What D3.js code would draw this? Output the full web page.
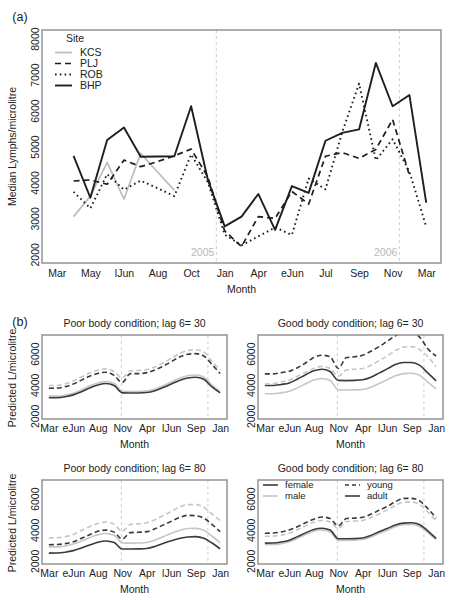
<!DOCTYPE html>
<html><head><meta charset="utf-8">
<script src="https://cdn.jsdelivr.net/npm/d3@7/dist/d3.min.js"></script>
<style>
body{margin:0;background:#fff}
text{font-family:"Liberation Sans",Arial,Helvetica,sans-serif;fill:#222}
</style>
</head><body>
<svg id="c" width="452" height="600"></svg>
<script>
// ---------- Panel (a) data ----------
const topTickPos = [0,2,4,6,8,10,12,14,16,18,20,22];
const topTickLabels = ["Mar","May","lJun","Aug","Oct","Jan","Apr","eJun","Jul","Sep","Nov","Mar"];
const topYTicks = [2000,3000,4000,5000,6000,7000,8000];
const siteNames = ["KCS","PLJ","ROB","BHP"];
const KCS = [3050,3620,4560,3540,4810,4290,3780];
const PLJ = [4040,4070,3950,4620,4440,4580,4740,4930,4150,2650,2220,3050,3000,3750,3400,4730,4830,4670,4920,5750,4200];
const ROB = [3740,3280,4230,3800,4050,3840,3620,4780,4000,2550,2250,2500,2750,2540,4110,3810,5400,6750,4620,5200,4300,2770];
const BHP = [4740,3575,5180,5530,4715,4720,4730,6120,4070,2780,3050,3680,2680,3900,3710,5160,5380,5475,7325,6120,6430,3440];
const yearBreaksTop = [9.5, 20.4];
const yearLabels = ["2005","2006"];

// ---------- Panel (b) data ----------
const botTickPos = [1,4,7,10,13,16,19,22];
const botTickLabels = ["Mar","eJun","Aug","Nov","Apr","lJun","Sep","Jan"];
const botYTicks = [2000,4000,6000];
const yearBreaksBot = [9.9, 20.5];
const panelTitles = ["Poor body condition; lag 6= 30","Good body condition; lag 6= 30",
                     "Poor body condition; lag 6= 80","Good body condition; lag 6= 80"];
const p1FemaleAdult = [3170,3170,3230,3350,3550,3800,3980,4080,3950,3480,3470,3470,3500,3620,3820,4050,4280,4430,4480,4350,3860,3480];
const p1MaleAdult   = [3270,3270,3330,3460,3670,3920,4110,4210,4080,3580,3570,3570,3600,3730,3940,4180,4420,4580,4630,4500,3980,3580];
const p1FemaleYoung = [3780,3790,3880,4050,4300,4550,4730,4810,4600,4150,4720,4720,4780,4950,5200,5480,5780,5960,6000,5850,5300,4720];
const p1MaleYoung   = [3950,3960,4050,4250,4500,4750,4930,5020,4850,4450,4900,4920,4980,5150,5400,5700,6000,6200,6250,6100,5500,4950];
const p2FemaleAdult = [3950,3950,4020,4120,4370,4650,4900,5000,4850,4280,4270,4280,4320,4480,4750,5020,5300,5430,5430,5250,4750,4250];
const p2MaleAdult   = [3420,3420,3480,3580,3800,4060,4300,4400,4270,3680,3660,3670,3700,3840,4080,4330,4580,4720,4740,4600,4150,3730];
const p2FemaleYoung = [4700,4700,4780,4870,5100,5400,5750,5900,5800,5050,5750,5800,5900,6150,6450,6800,7150,7350,7350,7050,6300,5850];
const p2MaleYoung   = [4050,4080,4180,4300,4550,4800,5050,5180,5050,4550,4950,5000,5050,5250,5550,5850,6200,6420,6450,6250,5800,5150];
const p3FemaleAdult = [2500,2510,2560,2660,2830,3020,3200,3280,3180,2760,2760,2770,2800,2930,3120,3290,3440,3540,3560,3460,3150,2780];
const p3MaleAdult   = [2900,2900,2960,3080,3280,3490,3680,3760,3650,3150,3140,3150,3180,3330,3550,3770,3960,4080,4090,3970,3600,3150];
const p3FemaleYoung = [3040,3050,3110,3230,3450,3680,3900,3980,3850,3400,3820,3840,3880,4060,4300,4540,4780,4930,4900,4750,4350,3880];
const p3MaleYoung   = [3480,3490,3560,3700,3950,4200,4400,4500,4350,3900,4350,4380,4450,4650,4900,5180,5450,5620,5620,5450,5000,4600];
const p4FemaleAdult = [3140,3150,3210,3330,3560,3800,4020,4100,3990,3420,3420,3430,3470,3640,3880,4080,4300,4430,4450,4320,3920,3450];
const p4MaleAdult   = [3040,3050,3110,3230,3450,3690,3910,3990,3880,3320,3320,3330,3370,3540,3770,3970,4190,4320,4340,4210,3820,3350];
const p4FemaleYoung = [3780,3790,3860,3990,4200,4450,4680,4820,4720,4250,4720,4750,4800,5000,5250,5500,5800,6020,6020,5850,5350,4750];
const p4MaleYoung   = [3580,3590,3650,3780,4000,4250,4480,4600,4500,4100,4530,4560,4600,4790,5020,5280,5560,5780,5780,5620,5130,4560];

// ---------- drawing ----------
const svg = d3.select("#c");
const FRAME = "#8c8c8c";
const DARK = "#1e1e1e";
const LIGHT = "#bdbdbd";
const GRID = "#c8c8c8";

function frame(b){
  svg.append("rect").attr("x",b.x0).attr("y",b.y0).attr("width",b.x1-b.x0).attr("height",b.y1-b.y0)
    .attr("fill","none").attr("stroke",FRAME).attr("stroke-width",1.4);
}
function xAxis(b, x, pos, labels, dy){
  const g = svg.append("g").attr("transform",`translate(0,${b.y1})`)
    .call(d3.axisBottom(x).tickValues(pos).tickFormat((d,i)=>labels[i]).tickSize(0).tickPadding(0));
  g.select(".domain").remove();
  g.selectAll("text").attr("y",dy).attr("dy","0.35em").style("font-size","10.5px")
    .style("font-family",'"Liberation Sans",Arial,sans-serif').attr("fill","#222");
}
function yAxis(b, y, ticks){
  const g = svg.append("g").attr("transform",`translate(${b.x0},0)`)
    .call(d3.axisLeft(y).tickValues(ticks).tickFormat(d3.format("d")).tickSize(0));
  g.select(".domain").remove();
  g.selectAll("text").attr("x",null).attr("dy","0.35em").attr("text-anchor","middle")
    .attr("transform","translate(-7,0) rotate(-90)").style("font-size","10.5px")
    .style("font-family",'"Liberation Sans",Arial,sans-serif').attr("fill","#222");
}
function label(x,y,t,size,rot,anchor,fill){
  const e = svg.append("text").attr("text-anchor",anchor||"middle").attr("dy","0.35em")
    .style("font-size",size+"px").text(t);
  if(fill) e.style("fill",fill);
  e.attr("transform",`translate(${x},${y})`+(rot?` rotate(${rot})`:""));
  return e;
}

// Panel (a)
const A = {x0:42,x1:441,y0:30,y1:263};
const xa = d3.scaleLinear().domain([-0.88,22.88]).range([A.x0,A.x1]);
const ya = d3.scaleLinear().domain([1760,8240]).range([A.y1,A.y0]);
yearBreaksTop.forEach((v,i)=>{
  svg.append("line").attr("x1",xa(v)).attr("x2",xa(v)).attr("y1",A.y0).attr("y2",A.y1)
    .attr("stroke",GRID).attr("stroke-width",0.9).attr("stroke-dasharray","3,3");
  label(xa(v)-2, 252, yearLabels[i], 10.5, 0, "end", "#b8b8b8");
});
const siteStyles = {
  KCS:{c:LIGHT,w:1.7,d:null},
  PLJ:{c:DARK,w:1.7,d:"6,4"},
  ROB:{c:DARK,w:1.9,d:"1.6,3.2"},
  BHP:{c:DARK,w:1.9,d:null}
};
const siteData = {KCS, PLJ, ROB, BHP};
const lineA = d3.line().x(d=>xa(d[0])).y(d=>ya(d[1]));
siteNames.forEach(s=>{
  const pts = siteData[s].map((v,i)=>[i+1,v]);
  const st = siteStyles[s];
  svg.append("path").attr("d",lineA(pts)).attr("fill","none").attr("stroke",st.c)
    .attr("stroke-width",st.w).attr("stroke-dasharray",st.d).attr("stroke-linejoin","round");
});
frame(A);
xAxis(A, xa, topTickPos, topTickLabels, 10);
yAxis(A, ya, topYTicks);
label(241.5, 289, "Month", 10.5);
label(12, 146.5, "Median Lymphs/microlitre", 10.5, -90);
label(20, 17, "(a)", 12.5);
// legend (a)
label(75, 38, "Site", 10.5);
siteNames.forEach((s,i)=>{
  const yy = 52.5 + i*11;
  const st = siteStyles[s];
  svg.append("line").attr("x1",55).attr("x2",72).attr("y1",yy).attr("y2",yy)
    .attr("stroke",st.c).attr("stroke-width",st.w).attr("stroke-dasharray",st.d);
  label(80, yy, s, 10.5, 0, "start");
});

// Panel (b)
const panelSeries = [
  [p1FemaleAdult,p1MaleAdult,p1FemaleYoung,p1MaleYoung],
  [p2FemaleAdult,p2MaleAdult,p2FemaleYoung,p2MaleYoung],
  [p3FemaleAdult,p3MaleAdult,p3FemaleYoung,p3MaleYoung],
  [p4FemaleAdult,p4MaleAdult,p4FemaleYoung,p4MaleYoung]
];
const seriesStyles = [
  {c:"#3a3a3a",d:null},   // female adult
  {c:"#c6c6c6",d:null},   // male adult
  {c:"#3a3a3a",d:"5,3"},  // female young
  {c:"#c6c6c6",d:"5,3"}   // male young
];
const boxes = [
  {x0:42,x1:227,y0:335,y1:419},
  {x0:258,x1:443,y0:335,y1:419},
  {x0:42,x1:227,y0:480,y1:564},
  {x0:258,x1:443,y0:480,y1:564}
];
boxes.forEach((b,p)=>{
  const x = d3.scaleLinear().domain([1-0.84,22+0.84]).range([b.x0,b.x1]);
  const y = d3.scaleLinear().domain([1800,7200]).range([b.y1,b.y0]);
  const cid = "clip"+p;
  svg.append("clipPath").attr("id",cid).append("rect")
    .attr("x",b.x0).attr("y",b.y0).attr("width",b.x1-b.x0).attr("height",b.y1-b.y0);
  yearBreaksBot.forEach(v=>{
    svg.append("line").attr("x1",x(v)).attr("x2",x(v)).attr("y1",b.y0).attr("y2",b.y1)
      .attr("stroke",GRID).attr("stroke-width",0.9).attr("stroke-dasharray","3,3");
  });
  const line = d3.line().x((d,i)=>x(i+1)).y(d=>y(d)).curve(d3.curveMonotoneX);
  const g = svg.append("g").attr("clip-path",`url(#${cid})`);
  [1,0,3,2].forEach(k=>{
    const st = seriesStyles[k];
    g.append("path").attr("d",line(panelSeries[p][k])).attr("fill","none")
      .attr("stroke",st.c).attr("stroke-width",1.6).attr("stroke-dasharray",st.d);
  });
  frame(b);
  xAxis(b, x, botTickPos, botTickLabels, 9);
  yAxis(b, y, botYTicks);
  label((b.x0+b.x1)/2, b.y0-12, panelTitles[p], 10.5);
  label((b.x0+b.x1)/2, b.y1+25, "Month", 10.5);
  if(b.x0 < 100) label(12, (b.y0+b.y1)/2+1, "Predicted L/microlitre", 10.5, -90);
});
label(20, 322, "(b)", 12.5);

// legend (b)
const legendItems = [
  {t:"female", c:"#3a3a3a", d:null, x:263, y:485},
  {t:"male",   c:"#c6c6c6", d:null, x:263, y:496},
  {t:"young",  c:"#3a3a3a", d:"4,3", x:345, y:485},
  {t:"adult",  c:"#3a3a3a", d:null, x:345, y:496}
];
legendItems.forEach(l=>{
  svg.append("line").attr("x1",l.x).attr("x2",l.x+15).attr("y1",l.y).attr("y2",l.y)
    .attr("stroke",l.c).attr("stroke-width",1.6).attr("stroke-dasharray",l.d);
  label(l.x+22, l.y, l.t, 9.5, 0, "start");
});
</script>
</body></html>
